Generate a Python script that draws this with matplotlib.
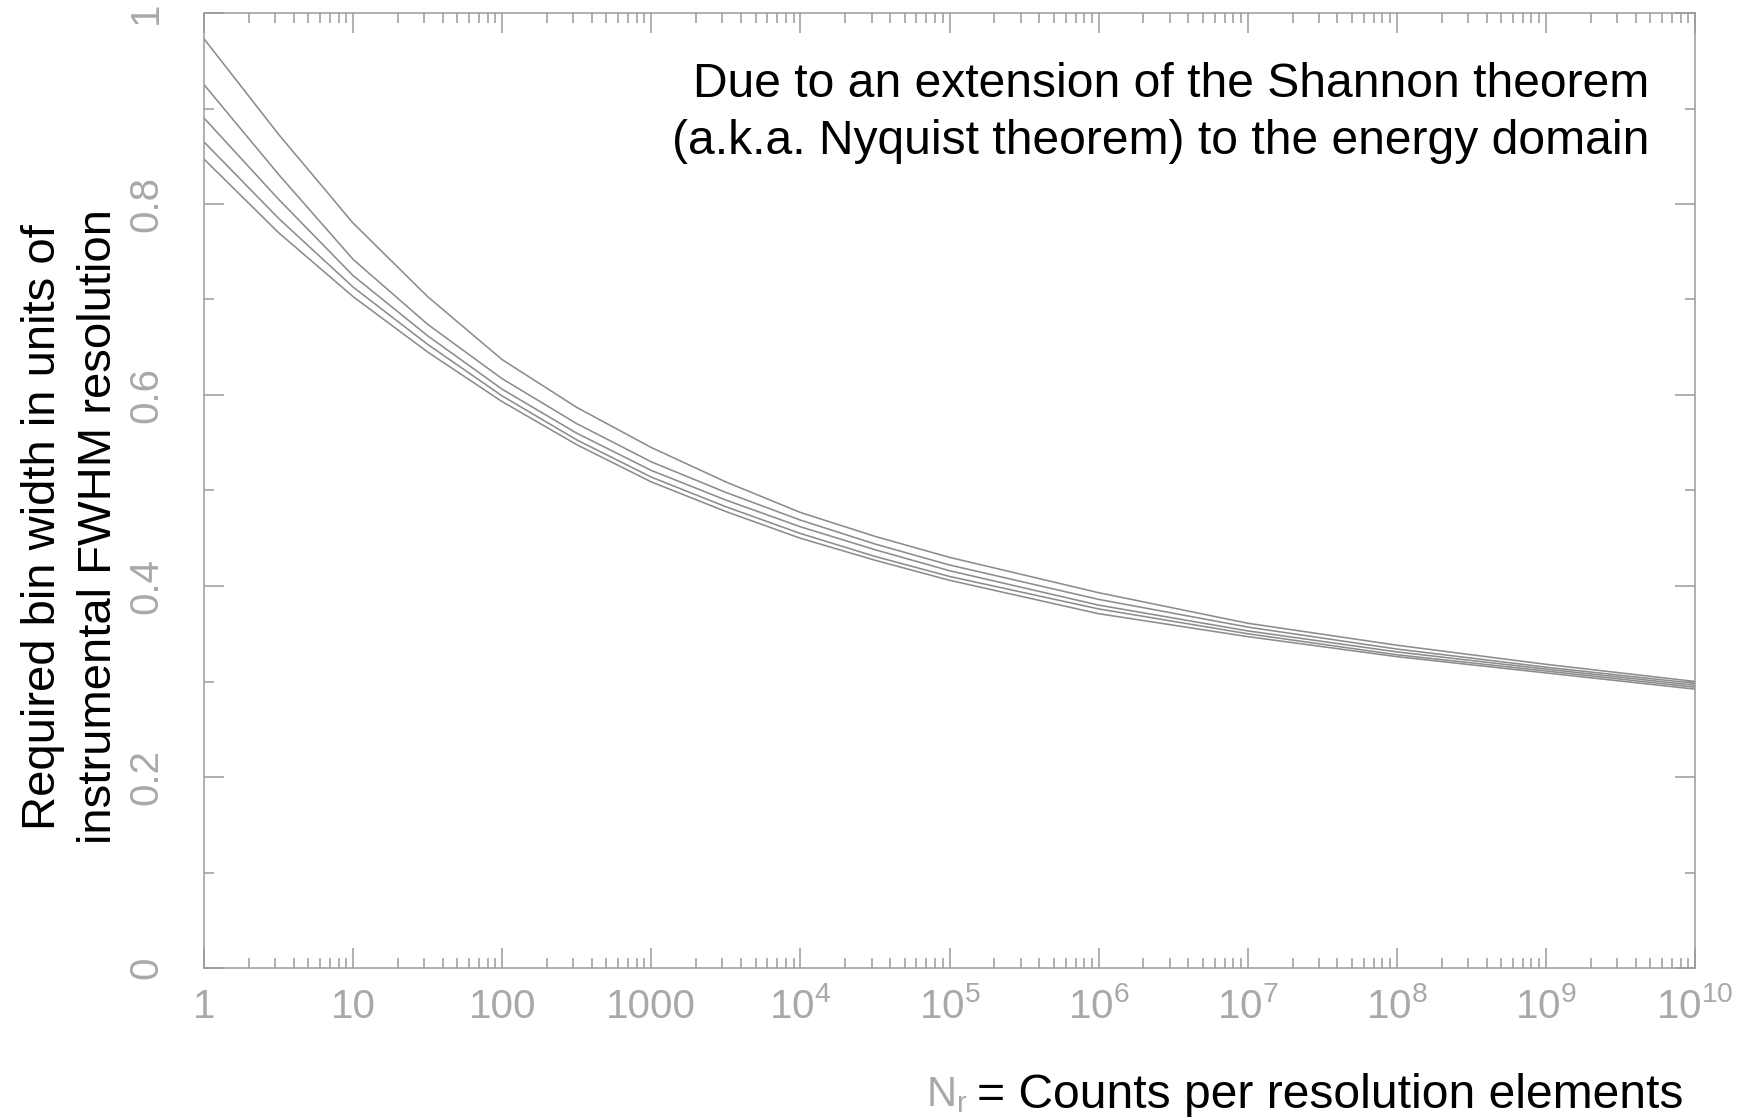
import numpy as np
import matplotlib
matplotlib.use("Agg")
import matplotlib.pyplot as plt
from matplotlib.ticker import LogLocator, FixedLocator, FixedFormatter, MultipleLocator, NullFormatter

plt.rcParams['font.family'] = ['Liberation Sans', 'DejaVu Sans']
plt.rcParams['mathtext.fontset'] = 'custom'
plt.rcParams['mathtext.rm'] = 'Liberation Sans'
plt.rcParams['mathtext.default'] = 'regular'

# ---- data (half-decade steps up to 1e5, then decades) ----
counts = [1, 10**0.5, 1e1, 10**1.5, 1e2, 10**2.5, 1e3, 10**3.5, 1e4, 10**4.5,
          1e5, 1e6, 1e7, 1e8, 1e9, 1e10]
curve1 = [0.973, 0.873, 0.780, 0.703, 0.637, 0.587, 0.545, 0.509, 0.477, 0.452,
          0.430, 0.393, 0.361, 0.338, 0.318, 0.300]
curve2 = [0.925, 0.831, 0.742, 0.674, 0.617, 0.570, 0.530, 0.498, 0.469, 0.444,
          0.422, 0.386, 0.357, 0.334, 0.315, 0.298]
curve3 = [0.890, 0.805, 0.725, 0.662, 0.606, 0.560, 0.521, 0.490, 0.462, 0.438,
          0.416, 0.380, 0.353, 0.331, 0.313, 0.296]
curve4 = [0.865, 0.785, 0.713, 0.653, 0.599, 0.553, 0.514, 0.483, 0.455, 0.431,
          0.410, 0.376, 0.350, 0.328, 0.311, 0.294]
curve5 = [0.847, 0.770, 0.703, 0.645, 0.593, 0.548, 0.509, 0.478, 0.450, 0.427,
          0.406, 0.371, 0.347, 0.326, 0.309, 0.292]
curves = [curve1, curve2, curve3, curve4, curve5]

x_tick_values = [1, 1e1, 1e2, 1e3, 1e4, 1e5, 1e6, 1e7, 1e8, 1e9, 1e10]
x_tick_labels = ['1', '10', '100', '1000', '$10^{4}$', '$10^{5}$', '$10^{6}$',
                 '$10^{7}$', '$10^{8}$', '$10^{9}$', '$10^{10}$']
y_tick_values = [0, 0.2, 0.4, 0.6, 0.8, 1.0]
y_tick_labels = ['0', '0.2', '0.4', '0.6', '0.8', '1']

ylabel_text = "Required bin width in units of\ninstrumental FWHM resolution"
note_text = "Due to an extension of the Shannon theorem\n(a.k.a. Nyquist theorem) to the energy domain"
xlabel_text = "= Counts per resolution elements"

# ---- figure ----
W, H = 1759, 1117
fig = plt.figure(figsize=(W / 100, H / 100), dpi=100)
ax = fig.add_axes([204 / W, 1 - 968 / H, (1695 - 204) / W, (968 - 13) / H])

line_color = '#8c8c8c'
axis_color = '#9a9a9a'
label_gray = '#a8a8a8'

for c in curves:
    ax.plot(counts, c, color=line_color, lw=1.15, solid_joinstyle='round')

ax.set_xscale('log')
ax.set_xlim(1, 1e10)
ax.set_ylim(0, 1)

for sp in ax.spines.values():
    sp.set_color(axis_color)
    sp.set_linewidth(1.1)

ax.xaxis.set_major_locator(FixedLocator(x_tick_values))
ax.xaxis.set_major_formatter(FixedFormatter(x_tick_labels))
ax.xaxis.set_minor_locator(LogLocator(base=10, subs=np.arange(2, 10), numticks=100))
ax.xaxis.set_minor_formatter(NullFormatter())

ax.yaxis.set_major_locator(FixedLocator(y_tick_values))
ax.yaxis.set_major_formatter(FixedFormatter(y_tick_labels))
ax.yaxis.set_minor_locator(MultipleLocator(0.1))

ax.tick_params(which='both', direction='in', top=True, right=True, color=axis_color, width=1.1)
ax.tick_params(which='major', length=14.5)
ax.tick_params(which='minor', length=7.2)
ax.tick_params(axis='x', which='major', pad=36, labelsize=29, labelcolor=label_gray)
ax.tick_params(axis='y', which='major', pad=28, labelsize=29, labelcolor=label_gray)

for lab in ax.get_xticklabels():
    lab.set_va('baseline')
for lab in ax.get_yticklabels():
    lab.set_rotation(90)
    lab.set_va('center')
    lab.set_ha('right')

fig.text(71 / W, 1 - 527 / H, ylabel_text, rotation=90, ha='center', va='center',
         multialignment='center', fontsize=34, color='black', linespacing=1.38)

fig.text(1649 / W, 1 - 113 / H, note_text, ha='right', va='center',
         multialignment='right', fontsize=34.6, color='black', linespacing=1.32)

fig.text(1683 / W, 1 - 1108 / H, xlabel_text, ha='right', va='baseline',
         fontsize=34.6, color='black')
fig.text(968 / W, 1 - 1106 / H, r'$N_r$', ha='right', va='baseline',
         fontsize=30, color=label_gray)

fig.savefig('out.png', dpi=100, facecolor='white')
